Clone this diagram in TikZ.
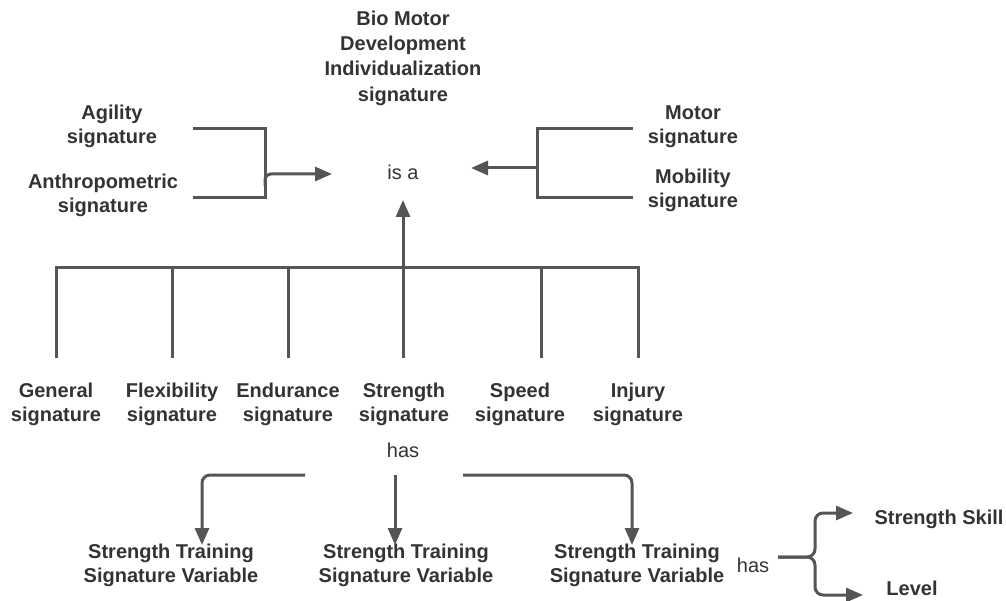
\documentclass[tikz,border=0pt]{standalone}
\usepackage{fontspec}
\setmainfont{Liberation Sans}
\usetikzlibrary{arrows.meta}
\definecolor{lncol}{HTML}{555555}
\definecolor{txcol}{HTML}{333333}
\begin{document}
\begin{tikzpicture}[x=1pt,y=-1pt,
 lbl/.style={font=\fontsize{20}{24}\selectfont\bfseries, text=txcol, align=center, inner sep=0pt},
 ttl/.style={font=\fontsize{20}{25.3}\selectfont\bfseries, text=txcol, align=center, inner sep=0pt},
 plain/.style={font=\fontsize{20}{24}\selectfont, text=txcol, inner sep=0pt},
 ln/.style={draw=lncol, line width=3pt},
 arr/.style={ln, -{Triangle[length=17pt,width=14pt]}}]
\useasboundingbox (0,0) rectangle (1006,601);
% texts
\node[ttl] (title) at (403,58) {Bio Motor\\Development\\Individualization\\signature};
\node[plain] (isa) at (403,172) {is a};
\node[lbl] (agil) at (112,126.5) {Agility\\signature};
\node[lbl] (anth) at (103,195) {Anthropometric\\signature};
\node[lbl] (motor) at (693,126.5) {Motor\\signature};
\node[lbl] (mob) at (693,190) {Mobility\\signature};
\node[lbl] (gen) at (56,404) {General\\signature};
\node[lbl] (flex) at (172,404) {Flexibility\\signature};
\node[lbl] (endu) at (288,404) {Endurance\\signature};
\node[lbl] (str) at (404,404) {Strength\\signature};
\node[lbl] (spd) at (520,404) {Speed\\signature};
\node[lbl] (inj) at (638,404) {Injury\\signature};
\node[plain] (has) at (403,450) {has};
\node[lbl] (st1) at (171,565.5) {Strength Training\\Signature Variable};
\node[lbl] (st2) at (406,565.5) {Strength Training\\Signature Variable};
\node[lbl] (st3) at (637,565.5) {Strength Training\\Signature Variable};
\node[plain] (has2) at (753,565) {has};
\node[lbl] (skill) at (939,519) {Strength Skill};
\node[lbl] (level) at (912,588) {Level};
% left bracket
\coordinate (la) at (193,129);
\coordinate (lb) at (193,198);
\coordinate (lx) at (265,174);
\coordinate (ltip) at (332,174);
\draw[ln] (la) -| (lx |- lb) -- (lb);
\draw[arr, rounded corners=6pt] (265,186) |- (ltip);
% right bracket
\coordinate (ra) at (633,129);
\coordinate (rb) at (633,198);
\coordinate (rx) at (537,168);
\coordinate (rtip) at (471,168);
\draw[ln] (ra) -| (rx |- rb) -- (rb);
\draw[arr] (rx) -- (rtip);
% bus
\coordinate (bus) at (0,268);
\coordinate (tgen) at (56,358);
\coordinate (tflex) at (172,358);
\coordinate (tendu) at (288,358);
\coordinate (tstr) at (403,358);
\coordinate (tspd) at (541,358);
\coordinate (tinj) at (638,358);
\coordinate (stip) at (403,200);
\draw[ln, line cap=rect] (tgen |- bus) -- (tinj |- bus);
\foreach \c in {tgen,tflex,tendu,tspd,tinj} \draw[ln] (\c) -- (\c |- bus);
\draw[arr] (tstr) -- (stip);
% has branches
\coordinate (h1) at (305,475);
\coordinate (h2) at (395,475);
\coordinate (h3) at (463,475);
\coordinate (t1) at (202,545);
\coordinate (t2) at (395,545);
\coordinate (t3) at (632,545);
\draw[arr, rounded corners=8pt] (h1) -| (t1);
\draw[arr] (h2) -- (t2);
\draw[arr, rounded corners=8pt] (h3) -| (t3);
% brace
\coordinate (b0) at (778,557);
\coordinate (bt) at (853,513);
\coordinate (bb) at (863,595);
\draw[arr, rounded corners=8pt] (b0) -| (815,513) -- (bt);
\draw[arr, rounded corners=8pt] (b0) -| (815,595) -- (bb);
\end{tikzpicture}
\end{document}
